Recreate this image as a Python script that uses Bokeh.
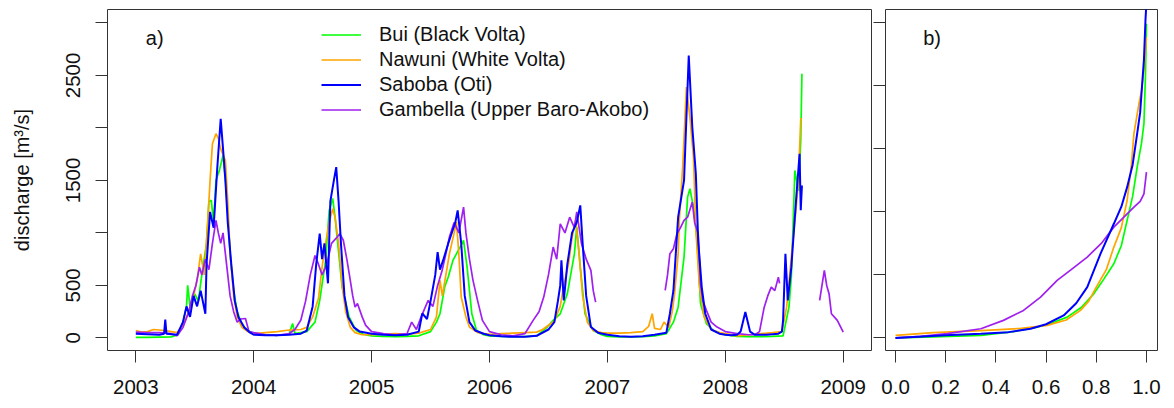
import math
from bokeh.plotting import figure
from bokeh.models import FixedTicker, Legend, LegendItem, Label, Range1d, NumeralTickFormatter
from bokeh.layouts import row
from bokeh.embed import file_html
from bokeh.resources import INLINE

FONT = "Liberation Sans"
nan = float("nan")

# ---------------- panel a) daily discharge (decimal year, m3/s) ----------------
bui_t = [2003.00, 2003.10, 2003.20, 2003.30, 2003.36, 2003.40, 2003.43, 2003.44, 2003.46, 2003.50,
         2003.53, 2003.56, 2003.60, 2003.62, 2003.64, 2003.66, 2003.68, 2003.71, 2003.74, 2003.76,
         2003.78, 2003.80, 2003.83, 2003.86, 2003.90, 2003.95,
         2004.00, 2004.10, 2004.20, 2004.30, 2004.33, 2004.35, 2004.45, 2004.52, 2004.56, 2004.61,
         2004.64, 2004.67, 2004.69, 2004.71, 2004.75, 2004.81, 2004.87, 2004.93,
         2005.00, 2005.10, 2005.20, 2005.30, 2005.40, 2005.50, 2005.55, 2005.58, 2005.62, 2005.65,
         2005.69, 2005.75, 2005.78, 2005.81, 2005.85, 2005.89, 2005.95,
         2006.00, 2006.10, 2006.20, 2006.30, 2006.40, 2006.49, 2006.54, 2006.60, 2006.66, 2006.72,
         2006.74, 2006.77, 2006.81, 2006.88, 2006.95,
         2007.00, 2007.10, 2007.20, 2007.30, 2007.40, 2007.50, 2007.56, 2007.60, 2007.65, 2007.68,
         2007.70, 2007.73, 2007.76, 2007.79, 2007.84, 2007.90,
         2008.00, 2008.10, 2008.20, 2008.30, 2008.40, 2008.49, 2008.54, 2008.56, 2008.58, 2008.59,
         2008.62, 2008.64, 2008.65]
bui_q = [5, 5, 8, 10, 30, 150, 300, 500, 300, 420,
         350, 600, 900, 1300, 1310, 1100, 1500, 1600, 1740, 1500,
         1200, 800, 450, 250, 130, 70,
         45, 30, 25, 35, 138, 40, 60, 150, 357, 738,
         1214, 1328, 1150, 929, 484, 198, 70, 35,
         20, 15, 12, 15, 20, 60, 150, 230, 484, 580,
         738, 865, 929, 674, 230, 71, 30,
         20, 15, 12, 12, 20, 103, 167, 230, 420, 800,
         1055, 674, 230, 70, 30,
         15, 10, 10, 12, 20, 40, 150, 293, 770, 1341,
         1421, 1246, 929, 325, 135, 70,
         30, 15, 12, 12, 15, 20, 293, 579, 1246, 1595,
         1400, 1881, 2516]

nawuni_t = [2003.00, 2003.05, 2003.10, 2003.15, 2003.20, 2003.25, 2003.30, 2003.35, 2003.40, 2003.45,
            2003.48, 2003.52, 2003.55, 2003.58, 2003.61, 2003.63, 2003.65, 2003.68, 2003.70, 2003.72,
            2003.76, 2003.78, 2003.80, 2003.83, 2003.86, 2003.90, 2003.95,
            2004.00, 2004.10, 2004.20, 2004.30, 2004.40, 2004.45, 2004.50, 2004.55, 2004.58, 2004.61,
            2004.64, 2004.67, 2004.69, 2004.72, 2004.75, 2004.78, 2004.82, 2004.86, 2004.92,
            2005.00, 2005.10, 2005.20, 2005.30, 2005.40, 2005.50, 2005.55, 2005.58, 2005.60, 2005.63,
            2005.66, 2005.70, 2005.72, 2005.74, 2005.76, 2005.80, 2005.83, 2005.90,
            2006.00, 2006.10, 2006.20, 2006.30, 2006.40, 2006.45, 2006.50, 2006.55, 2006.60, 2006.63,
            2006.67, 2006.70, 2006.73, 2006.76, 2006.79, 2006.83, 2006.88, 2006.95,
            2007.00, 2007.10, 2007.20, 2007.30, 2007.35, 2007.38, 2007.40, 2007.45, 2007.48, 2007.52,
            2007.55, 2007.57, 2007.60, 2007.61, 2007.64, 2007.67, 2007.70, 2007.73, 2007.75, 2007.78,
            2007.82, 2007.88, 2007.95,
            2008.00, 2008.10, 2008.20, 2008.30, 2008.40, 2008.48, 2008.52, 2008.56, 2008.60, 2008.62,
            2008.64, 2008.65]
nawuni_q = [70, 55, 60, 80, 75, 70, 60, 50, 120, 250,
            350, 550, 800, 600, 1100, 1500, 1850, 1945, 1900, 1800,
            1690, 1300, 800, 400, 200, 100, 60,
            40, 50, 60, 75, 80, 100, 200, 380, 674, 900,
            1100, 1230, 1150, 900, 500, 250, 100, 50, 30,
            30, 35, 40, 35, 45, 80, 200, 548, 400, 600,
            800, 1000, 1103, 800, 389, 200, 103, 50,
            35, 40, 45, 50, 55, 80, 120, 160, 300, 500,
            700, 950, 1119, 800, 400, 150, 70, 50,
            45, 45, 50, 60, 110, 230, 90, 80, 150, 100,
            250, 421, 800, 1119, 1659, 2389, 2100, 1722, 1040, 500,
            200, 80, 50,
            40, 20, 30, 40, 50, 60, 293, 770, 1227, 1500,
            2087, 2090]

saboba_t = [2003.00, 2003.10, 2003.20, 2003.24, 2003.25, 2003.26, 2003.35, 2003.40, 2003.43, 2003.46,
            2003.49, 2003.52, 2003.55, 2003.59, 2003.60, 2003.63, 2003.66, 2003.69, 2003.72, 2003.74,
            2003.76, 2003.78, 2003.81, 2003.84, 2003.87, 2003.92, 2003.97,
            2004.00, 2004.10, 2004.20, 2004.30, 2004.40, 2004.45, 2004.50, 2004.53, 2004.56, 2004.58,
            2004.60, 2004.63, 2004.65, 2004.68, 2004.70, 2004.72, 2004.74, 2004.77, 2004.80, 2004.85,
            2004.90,
            2005.00, 2005.10, 2005.20, 2005.30, 2005.40, 2005.43, 2005.47, 2005.50, 2005.54, 2005.56,
            2005.58, 2005.61, 2005.65, 2005.68, 2005.71, 2005.73, 2005.76, 2005.79, 2005.83, 2005.88,
            2005.95,
            2006.00, 2006.10, 2006.20, 2006.30, 2006.40, 2006.50, 2006.55, 2006.58, 2006.60, 2006.61,
            2006.63, 2006.66, 2006.70, 2006.74, 2006.77, 2006.79, 2006.82, 2006.86, 2006.92,
            2007.00, 2007.10, 2007.20, 2007.30, 2007.40, 2007.50, 2007.53, 2007.56, 2007.60, 2007.65,
            2007.69, 2007.72, 2007.75, 2007.77, 2007.80, 2007.83, 2007.88, 2007.95,
            2008.00, 2008.05, 2008.10, 2008.13, 2008.17, 2008.21, 2008.25, 2008.35, 2008.45, 2008.48,
            2008.49, 2008.51, 2008.53, 2008.56, 2008.60, 2008.63, 2008.64, 2008.65]
saboba_q = [40, 35, 30, 40, 175, 40, 30, 150, 300, 200,
            400, 300, 450, 230, 700, 1200, 1050, 1600, 2087, 1800,
            1500, 1100, 700, 350, 200, 100, 50,
            30, 25, 25, 30, 40, 70, 300, 700, 993, 750,
            900, 520, 1300, 1500, 1627, 1300, 900, 400, 200, 100,
            60,
            40, 30, 25, 30, 60, 233, 180, 350, 600, 817,
            650, 750, 900, 1000, 1100, 1214, 900, 400, 150, 70,
            40,
            25, 15, 10, 12, 20, 80, 150, 350, 500, 738,
            357, 700, 1000, 1100, 1262, 900, 400, 103, 50,
            30, 15, 10, 15, 30, 50, 230, 452, 1151, 1500,
            2690, 2008, 1565, 929, 484, 230, 80, 40,
            30, 25, 30, 60, 246, 60, 30, 30, 40, 60,
            167, 802, 357, 674, 1310, 1754, 1217, 1452]

gambella_t = [2003.00, 2003.10, 2003.20, 2003.30, 2003.35, 2003.40, 2003.45, 2003.48, 2003.51, 2003.54,
              2003.56, 2003.59, 2003.62, 2003.65, 2003.68, 2003.70, 2003.72, 2003.74, 2003.77, 2003.80,
              2003.83, 2003.86, 2003.89, 2003.93, 2003.96,
              2004.00, 2004.10, 2004.20, 2004.30, 2004.35, 2004.40, 2004.44, 2004.48, 2004.52, 2004.55,
              2004.58, 2004.62, 2004.66, 2004.70, 2004.73, 2004.76, 2004.79, 2004.81, 2004.84, 2004.86,
              2004.88, 2004.92, 2004.95,
              2005.00, 2005.10, 2005.20, 2005.30, 2005.34, 2005.38, 2005.42, 2005.48, 2005.52, 2005.56,
              2005.60, 2005.63, 2005.66, 2005.70, 2005.74, 2005.78, 2005.80, 2005.83, 2005.86, 2005.90,
              2005.94,
              2006.00, 2006.10, 2006.20, 2006.30, 2006.37, 2006.42, 2006.46, 2006.50, 2006.54, 2006.57,
              2006.60, 2006.64, 2006.68, 2006.72, 2006.74, 2006.78, 2006.82, 2006.86, 2006.88, 2006.90,
              2006.91,
              2007.49, 2007.51, 2007.53, 2007.56, 2007.59, 2007.62, 2007.65, 2007.68, 2007.72, 2007.74,
              2007.77, 2007.79, 2007.81, 2007.84, 2007.88, 2007.93,
              2008.00, 2008.10, 2008.20, 2008.25, 2008.29, 2008.33, 2008.36, 2008.39, 2008.42, 2008.45,
              2008.46, 2008.47, 2008.80, 2008.82, 2008.84, 2008.86, 2008.88, 2008.90, 2008.95, 2009.00]
gambella_q = [55, 50, 50, 40, 20, 100, 250, 400, 500, 674,
              600, 750, 650, 900, 1119, 1000, 900, 1000, 700, 400,
              250, 150, 180, 185, 60,
              50, 30, 25, 40, 80, 170, 350, 600, 785, 700,
              600, 700, 900, 950, 992, 930, 750, 613, 400, 293,
              327, 200, 120,
              60, 40, 30, 40, 150, 80, 200, 357, 300, 500,
              650, 800, 960, 1100, 1000, 1246, 1000, 750, 548, 350,
              167,
              60, 30, 20, 40, 167, 250, 389, 600, 865, 750,
              1087, 1000, 1150, 1050, 1200, 900, 750, 643, 450, 341,
              nan,
              452, 600, 802, 850, 992, 1050, 1119, 1150, 1294, 1100,
              995, 516, 350, 262, 150, 103,
              60, 40, 30, 30, 60, 293, 400, 484, 450, 579,
              520, nan, 357, 500, 643, 500, 421, 230, 167, 55]

year_ticks = [2003, 2004, 2005, 2006, 2007, 2008, 2009]
q_labelled_ticks = [0, 500, 1500, 2500]
q_unlabelled_ticks = [1000, 2000, 3000]

# ---------------- panel b) sorted discharge (fraction, m3/s) ----------------
bui_f = [0.0, 0.15, 0.34, 0.47, 0.565, 0.62, 0.684, 0.74, 0.79, 0.83,
         0.87, 0.9, 0.923, 0.945, 0.963, 0.98, 0.99, 0.996, 1.0]
bui_s = [0, 10, 24, 60, 103, 140, 198, 290, 420, 560,
         706, 880, 1119, 1350, 1627, 1850, 2040, 2500, 2992]
nawuni_f = [0.0, 0.15, 0.34, 0.5, 0.604, 0.68, 0.737, 0.77, 0.80, 0.84,
            0.87, 0.9, 0.923, 0.94, 0.95, 0.97, 0.98, 0.99, 1.0]
nawuni_s = [24, 50, 70, 90, 119, 170, 262, 350, 484, 650,
            865, 1050, 1310, 1650, 1945, 2230, 2350, 2550, 2860]
saboba_f = [0.0, 0.2, 0.34, 0.45, 0.538, 0.6, 0.67, 0.72, 0.764, 0.817,
            0.87, 0.9, 0.923, 0.945, 0.963, 0.975, 0.983, 0.99, 0.996, 1.0]
saboba_s = [0, 25, 40, 55, 87, 130, 214, 330, 484, 802,
            1087, 1250, 1436, 1650, 1945, 2150, 2421, 2650, 3024, 3200]
gambella_f = [0.0, 0.1, 0.206, 0.34, 0.43, 0.51, 0.578, 0.644, 0.70, 0.764,
              0.82, 0.87, 0.91, 0.95, 0.975, 0.99, 1.0]
gambella_s = [0, 15, 40, 87, 167, 262, 389, 548, 650, 770,
              900, 1055, 1150, 1246, 1300, 1373, 1579]

frac_ticks = [0.0, 0.2, 0.4, 0.6, 0.8, 1.0]
fdc_q_ticks = [0, 600, 1200, 1800, 2400, 3000]

names = ["Bui (Black Volta)", "Nawuni (White Volta)", "Saboba (Oti)", "Gambella (Upper Baro-Akobo)"]
colors = ["#00FF00", "#FFA500", "#0000FF", "#A020F0"]
widths = [1.7, 1.7, 2.0, 1.7]

TXT = "#111111"
FRAME = "#333333"


def style(p):
    p.outline_line_color = FRAME
    p.outline_line_width = 1
    p.xgrid.visible = False
    p.ygrid.visible = False
    p.background_fill_color = "white"
    p.border_fill_color = "white"
    for ax in (p.xaxis[0], p.yaxis[0]):
        ax.axis_line_color = None
        ax.major_tick_line_color = FRAME
        ax.major_tick_line_width = 1
        ax.major_tick_out = 12
        ax.major_tick_in = 0
        ax.minor_tick_line_color = FRAME
        ax.minor_tick_line_width = 1
        ax.minor_tick_out = 12
        ax.minor_tick_in = 0
        ax.major_label_text_font = FONT
        ax.major_label_text_font_size = "20.5px"
        ax.major_label_text_color = TXT
    p.xaxis[0].major_label_standoff = 17


# ---------------- figure a ----------------
p1 = figure(width=873, height=400,
            x_range=Range1d(2002.76, 2009.24), y_range=Range1d(-120, 3128),
            output_backend="svg", toolbar_location=None,
            min_border_left=107, min_border_right=2, min_border_top=9, min_border_bottom=50)
style(p1)
p1.xaxis[0].ticker = FixedTicker(ticks=year_ticks, minor_ticks=[])
p1.xaxis[0].major_label_overrides = {t: str(t) for t in year_ticks}
p1.yaxis[0].ticker = FixedTicker(ticks=q_labelled_ticks, minor_ticks=q_unlabelled_ticks)
p1.yaxis[0].major_label_orientation = "vertical"
p1.yaxis[0].major_label_standoff = 15
p1.yaxis[0].axis_label = "discharge [m³/s]"
p1.yaxis[0].axis_label_text_font = FONT
p1.yaxis[0].axis_label_text_font_size = "20px"
p1.yaxis[0].axis_label_text_font_style = "normal"
p1.yaxis[0].axis_label_text_color = TXT
p1.yaxis[0].axis_label_standoff = 31

series_t = [bui_t, nawuni_t, saboba_t, gambella_t]
series_q = [bui_q, nawuni_q, saboba_q, gambella_q]
renderers = [None] * 4
for i in [0, 1, 3, 2]:
    renderers[i] = p1.line(series_t[i], series_q[i], line_color=colors[i], line_width=widths[i])

legend = Legend(items=[LegendItem(label=names[i], renderers=[renderers[i]]) for i in range(4)],
                location=(214, 228), padding=0, margin=0, spacing=0,
                border_line_color=None, background_fill_alpha=0,
                label_text_font=FONT, label_text_font_size="20px", label_text_color=TXT,
                glyph_width=40, glyph_height=25, label_height=25, label_standoff=18)
p1.add_layout(legend)

p1.add_layout(Label(x=2003.085, y=2857, text="a)", text_font=FONT, text_font_size="20px",
                    text_baseline="middle", text_color=TXT))

# ---------------- figure b ----------------
p2 = figure(width=293, height=400,
            x_range=Range1d(-0.04, 1.044), y_range=Range1d(-120, 3128),
            output_backend="svg", toolbar_location=None,
            min_border_left=12, min_border_right=9, min_border_top=9, min_border_bottom=50)
style(p2)
p2.xaxis[0].ticker = FixedTicker(ticks=frac_ticks, minor_ticks=[])
p2.xaxis[0].formatter = NumeralTickFormatter(format="0.0")
p2.yaxis[0].ticker = FixedTicker(ticks=[], minor_ticks=fdc_q_ticks)
p2.yaxis[0].major_label_standoff = 0

series_f = [bui_f, nawuni_f, saboba_f, gambella_f]
series_s = [bui_s, nawuni_s, saboba_s, gambella_s]
for i in [0, 1, 3, 2]:
    p2.line(series_f[i], series_s[i], line_color=colors[i], line_width=widths[i])

p2.add_layout(Label(x=0.11, y=2857, text="b)", text_font=FONT, text_font_size="20px",
                    text_baseline="middle", text_color=TXT))

layout = row(p1, p2, spacing=0)
open("out.html", "w").write(file_html(layout, INLINE))
